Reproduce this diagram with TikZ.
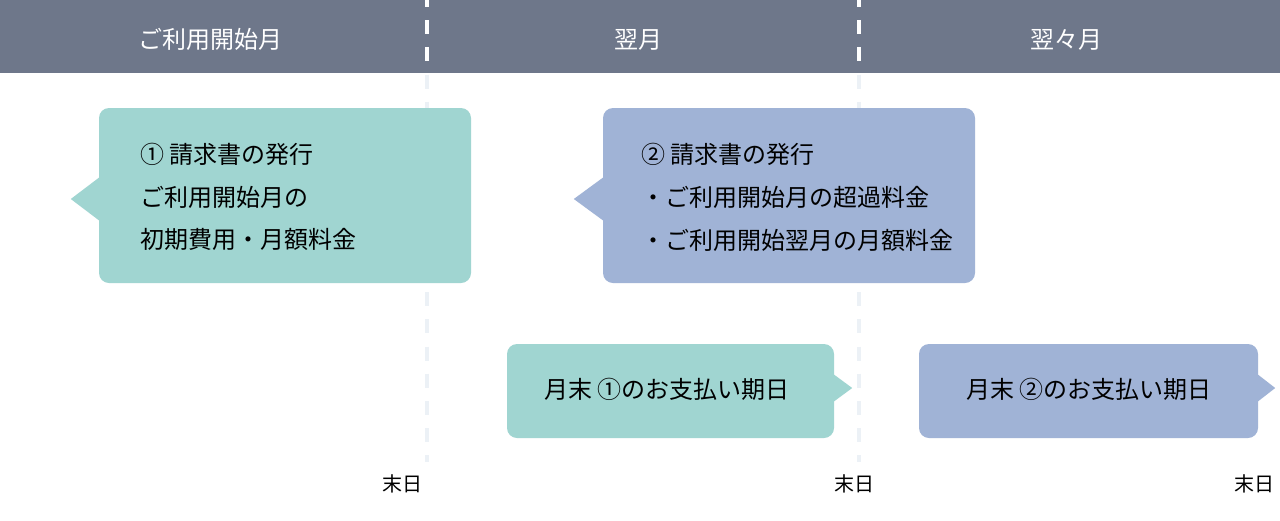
\documentclass[tikz,border=0pt]{standalone}
\usepackage{fontspec}
\setmainfont{Noto Sans CJK JP}
\definecolor{hdrgray}{RGB}{110,119,138}
\definecolor{tealbox}{RGB}{160,213,209}
\definecolor{bluebox}{RGB}{160,179,214}
\definecolor{dashlight}{RGB}{236,241,246}
\begin{document}
\begin{tikzpicture}[x=1pt,y=1pt,
  hdrtext/.style={inner sep=0pt,text=white,font=\fontsize{24}{28}\selectfont,text height=21.1pt,text depth=2.9pt},
  linetext/.style={inner sep=0pt,anchor=west,font=\fontsize{24}{28}\selectfont,text height=21.1pt,text depth=2.9pt},
  ctrtext/.style={inner sep=0pt,font=\fontsize{24}{28}\selectfont,text height=21.1pt,text depth=2.9pt},
  endtext/.style={inner sep=0pt,font=\fontsize{20}{24}\selectfont,text height=17.6pt,text depth=2.4pt},
  bigbox/.style={inner sep=0pt,rounded corners=10pt,minimum width=372pt,minimum height=175pt},
  smallbox/.style={inner sep=0pt,rounded corners=10pt,minimum height=94pt},
  monthline/.style={line width=4pt,dash pattern=on 14pt off 13.2pt,dash phase=7pt}
]
\useasboundingbox (0,0) rectangle (1280,-520);
\fill[white] (0,0) rectangle (1280,-520);
% header
\fill[hdrgray] (0,0) rectangle (1280,-73);
% month division lines
\coordinate (l1top) at (427,0);
\coordinate (l1bot) at (427,-462);
\coordinate (l2top) at (859,0);
\coordinate (l2bot) at (859,-462);
\draw[monthline,dashlight] (l1top) -- (l1bot);
\draw[monthline,dashlight] (l2top) -- (l2bot);
\begin{scope}
  \clip (0,0) rectangle (1280,-73);
  \draw[monthline,white] (l1top) -- (l1bot);
  \draw[monthline,white] (l2top) -- (l2bot);
\end{scope}
% header labels
\node[hdrtext] (h1) at (210,-39) {ご利用開始月};
\node[hdrtext] (h2) at (638,-39) {翌月};
\node[hdrtext] (h3) at (1066,-39) {翌々月};
% box 1
\node[bigbox,fill=tealbox] (b1) at (285,-195.5) {};
\fill[tealbox] ([xshift=1pt,yshift=18.5pt]b1.west) -- ([xshift=-28pt,yshift=-3.5pt]b1.west) -- ([xshift=1pt,yshift=-25.5pt]b1.west) -- cycle;
\node[linetext] (t1a) at (140,-154) {① 請求書の発行};
\node[linetext] (t1b) at (140,-197) {ご利用開始月の};
\node[linetext] (t1c) at (140,-239.5) {初期費用・月額料金};
% box 2
\node[bigbox,fill=bluebox] (b2) at (789,-195.5) {};
\fill[bluebox] ([xshift=1pt,yshift=18.5pt]b2.west) -- ([xshift=-29pt,yshift=-3.5pt]b2.west) -- ([xshift=1pt,yshift=-25.5pt]b2.west) -- cycle;
\node[linetext] (t2a) at (641,-154) {② 請求書の発行};
\node[linetext] (t2b) at (641,-197) {・ご利用開始月の超過料金};
\node[linetext] (t2c) at (641,-240) {・ご利用開始翌月の月額料金};
% box 3
\node[smallbox,minimum width=327pt,fill=tealbox] (b3) at (670.5,-391) {};
\fill[tealbox] ([xshift=-1pt,yshift=17pt]b3.east) -- ([xshift=18pt,yshift=3pt]b3.east) -- ([xshift=-1pt,yshift=-11pt]b3.east) -- cycle;
\node[ctrtext] (t3) at (667,-389) {月末 ①のお支払い期日};
% box 4
\node[smallbox,minimum width=339pt,fill=bluebox] (b4) at (1088.5,-391) {};
\fill[bluebox] ([xshift=-1pt,yshift=17pt]b4.east) -- ([xshift=17pt,yshift=3pt]b4.east) -- ([xshift=-1pt,yshift=-11pt]b4.east) -- cycle;
\node[ctrtext] (t4) at (1089,-389) {月末 ②のお支払い期日};
% end-of-month labels
\node[endtext] (e1) at (402,-484) {末日};
\node[endtext] (e2) at (854,-484) {末日};
\node[endtext] (e3) at (1254,-484) {末日};
\end{tikzpicture}
\end{document}
